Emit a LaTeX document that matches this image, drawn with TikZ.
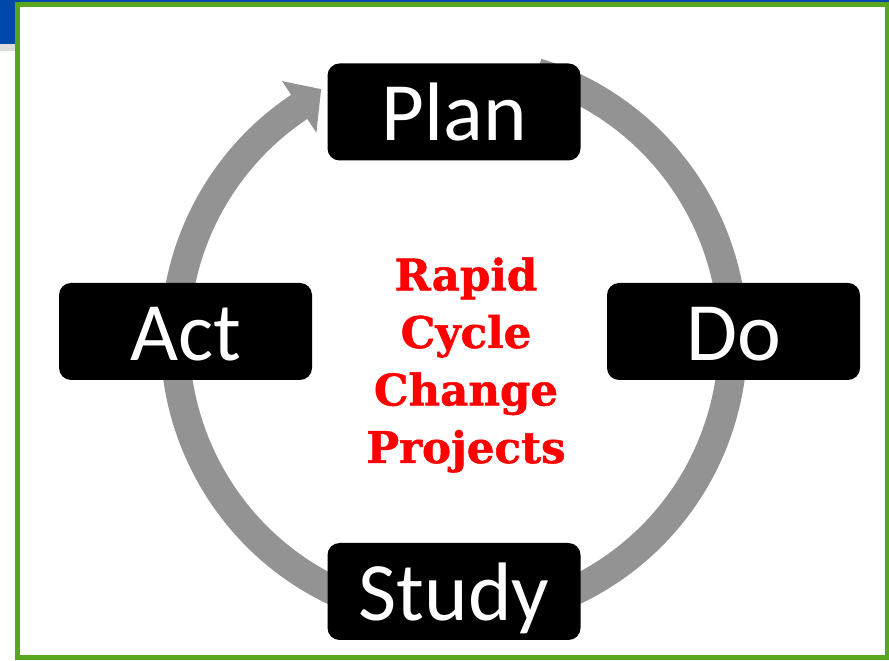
\documentclass[tikz,border=0pt]{standalone}
\usepackage{fontspec}
\newfontfamily\boxfont{Carlito}
\newfontfamily\cyclefont{DejaVu Serif}[BoldFeatures={FakeBold=1.2}]
\definecolor{ringgray}{RGB}{147,147,147}
\definecolor{framegreen}{RGB}{90,165,30}
\definecolor{barblue}{RGB}{0,72,170}
\definecolor{bargray}{RGB}{221,221,221}
\definecolor{titlered}{RGB}{255,0,0}
\begin{document}
\begin{tikzpicture}[x=1pt,y=1pt,
  stepbox/.style={fill=black, rounded corners=12pt, minimum width=253pt,
    minimum height=97pt, inner sep=0pt, text=white,
    font=\boxfont\fontsize{83}{83}\selectfont, text height=58pt, text depth=0pt},
  ring/.style={draw=ringgray, line width=29pt},
  headfill/.style={fill=ringgray},
]
\useasboundingbox (0,0) rectangle (889,661);
% slide chrome behind the frame
\fill[barblue] (0,658) rectangle (889,661);
\fill[barblue] (0,617) rectangle (15,661);
\fill[bargray] (0,610) rectangle (15,617);
\draw[framegreen, line width=5pt] (17.5,3) rectangle (887,656);

% the cycle: thick arc with a hand-built arrowhead
\coordinate (C) at (454,322);
\draw[ring] (C) ++(72.7:279) arc[start angle=72.7, end angle=-237.5, radius=279];
\begin{scope}[shift={(C)}]
  \fill[headfill] (123.7:310) -- (118.0:283) -- (123.7:248) -- cycle;
\end{scope}

% the four stages
\node[stepbox] (plan)  at (454,549)   {Plan};
\node[stepbox] (act)   at (185.5,329.5) {Act};
\node[stepbox] (do)    at (733.5,329.5) {Do};
\node[stepbox] (study) at (454,69.5)  {Study};

% centre caption
\node[text=titlered, font=\cyclefont\bfseries\fontsize{43.5}{57.5}\selectfont,
  align=center] (title) at (466,296) {Rapid\\Cycle\\Change\\Projects};
\end{tikzpicture}
\end{document}
